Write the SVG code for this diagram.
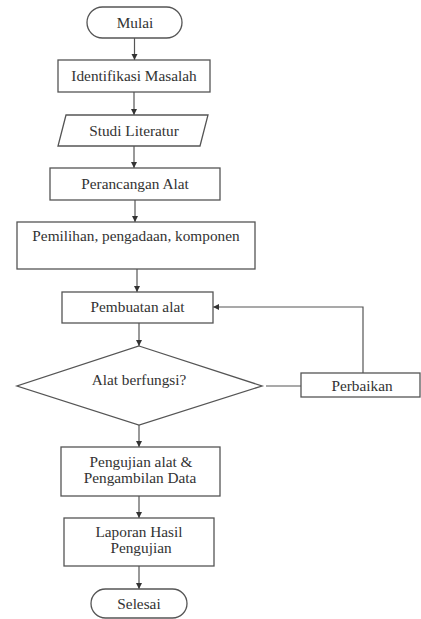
<svg xmlns="http://www.w3.org/2000/svg" width="421" height="619" viewBox="0 0 421 619">
<style>
.s{fill:#fff;stroke:#555;stroke-width:1.3}
.t{font-family:'Liberation Serif','Times New Roman',serif;font-size:15.3px;fill:#333;text-anchor:middle}
.c{fill:none;stroke:#555;stroke-width:1.2}
</style>
<defs>
<marker id="a" markerWidth="7" markerHeight="7" refX="6" refY="3.5" orient="auto" markerUnits="userSpaceOnUse">
<path d="M0,0.5 L6,3.5 L0,6.5 z" fill="#333"/>
</marker>
</defs>
<rect width="421" height="619" fill="#fff"/>
<g id="connectors">
<path class="c" d="M134.5,38 V60" marker-end="url(#a)"/>
<path class="c" d="M134,92 V115" marker-end="url(#a)"/>
<path class="c" d="M134,146 V168" marker-end="url(#a)"/>
<path class="c" d="M135,200 V222" marker-end="url(#a)"/>
<path class="c" d="M137,269 V292" marker-end="url(#a)"/>
<path class="c" d="M139,323 V346" marker-end="url(#a)"/>
<path class="c" d="M139,425 V447" marker-end="url(#a)"/>
<path class="c" d="M139,496 V518" marker-end="url(#a)"/>
<path class="c" d="M139,566 V589" marker-end="url(#a)"/>
<path class="c" d="M266,386 H301"/>
<path class="c" d="M363,373 V307 H213" marker-end="url(#a)"/>
</g>
<g id="mulai">
<rect class="s" x="87" y="7" width="95" height="31" rx="15.5"/>
<text class="t" x="135" y="28">Mulai</text>
</g>
<g id="identifikasi">
<rect class="s" x="58" y="60" width="152" height="32"/>
<text class="t" x="134" y="80.5">Identifikasi Masalah</text>
</g>
<g id="studi">
<path class="s" d="M66,115 H208 L200,146 H58 Z"/>
<text class="t" x="134" y="136">Studi Literatur</text>
</g>
<g id="perancangan">
<rect class="s" x="50" y="168" width="170" height="32"/>
<text class="t" x="135" y="188.5">Perancangan Alat</text>
</g>
<g id="pemilihan">
<rect class="s" x="17" y="222" width="238" height="47"/>
<text class="t" x="136" y="240.5">Pemilihan, pengadaan, komponen</text>
</g>
<g id="pembuatan">
<rect class="s" x="62" y="292" width="151" height="31"/>
<text class="t" x="137.5" y="311.5">Pembuatan alat</text>
</g>
<g id="keputusan">
<path class="s" d="M139,346 L262,386 L139,425 L17,386 Z"/>
<text class="t" x="139" y="385">Alat berfungsi?</text>
</g>
<g id="perbaikan">
<rect class="s" x="301" y="373" width="119" height="24"/>
<text class="t" x="362" y="390.5">Perbaikan</text>
</g>
<g id="pengujian">
<rect class="s" x="61" y="447" width="159" height="49"/>
<text class="t" x="141" y="467">Pengujian alat &amp;</text>
<text class="t" x="140" y="482.5">Pengambilan Data</text>
</g>
<g id="laporan">
<rect class="s" x="64" y="518" width="150" height="48"/>
<text class="t" x="139" y="537">Laporan Hasil</text>
<text class="t" x="141" y="553">Pengujian</text>
</g>
<g id="selesai">
<rect class="s" x="91" y="589" width="96" height="29" rx="14.5"/>
<text class="t" x="139" y="609">Selesai</text>
</g>
</svg>
